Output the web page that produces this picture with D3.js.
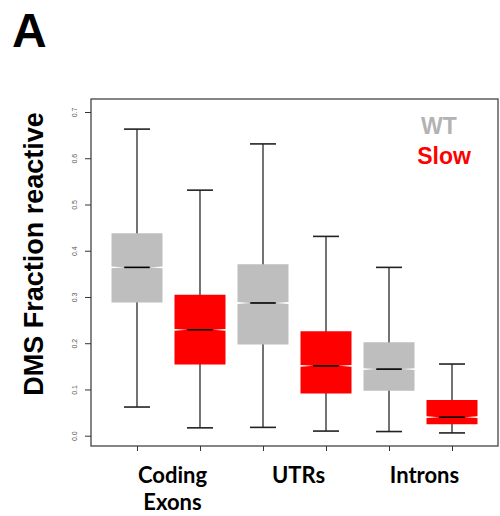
<!DOCTYPE html>
<html>
<head>
<meta charset="utf-8">
<script src="https://cdn.jsdelivr.net/npm/d3@7"></script>
<style>
  html, body { margin: 0; padding: 0; background: #fff; }
  svg { display: block; }
</style>
</head>
<body>
<svg id="chart" width="500" height="516"></svg>
<script>
// Region categories along the x axis (label lines per category)
const categories = ["Coding Exons", "UTRs", "Introns"];
const categoryLines = [["Coding", "Exons"], ["UTRs"], ["Introns"]];
const seriesNames = ["WT", "Slow"];

// Five-number summaries per category: [lower whisker, Q1, median, Q3, upper whisker]
const wtStats = [
  [0.062, 0.288, 0.364, 0.438, 0.663],
  [0.018, 0.197, 0.287, 0.371, 0.631],
  [0.009, 0.097, 0.144, 0.202, 0.364]
];
const slowStats = [
  [0.017, 0.154, 0.229, 0.305, 0.531],
  [0.010, 0.091, 0.151, 0.226, 0.431],
  [0.006, 0.025, 0.040, 0.077, 0.155]
];

const yTicks = [0.0, 0.1, 0.2, 0.3, 0.4, 0.5, 0.6, 0.7];
const yLabel = "DMS Fraction reactive";
const panelLabel = "A";

const colors = { WT: "#bebebe", Slow: "#ff0000" };
const legendColors = { WT: "#b3b3b3", Slow: "#ff0000" };

const svg = d3.select("#chart");

// Plot frame
const frame = { left: 91, right: 498, top: 99, bottom: 446 };

// One box per (category, series)
const boxes = [];
categories.forEach((c, i) => {
  seriesNames.forEach(s => {
    const st = s === "WT" ? wtStats[i] : slowStats[i];
    boxes.push({ key: c + "|" + s, category: c, series: s,
      lo: st[0], q1: st[1], med: st[2], q3: st[3], hi: st[4] });
  });
});

const x = d3.scalePoint()
  .domain(boxes.map(d => d.key))
  .range([frame.left, frame.right])
  .padding(0.73);

const y = d3.scaleLinear().domain([0, 0.7]).range([435.7, 112]);

const boxHalf = 25.5;
const capHalf = 13;
const notchHalfPx = 0.9;

// Frame
svg.append("rect")
  .attr("x", frame.left).attr("y", frame.top)
  .attr("width", frame.right - frame.left)
  .attr("height", frame.bottom - frame.top)
  .attr("fill", "none")
  .attr("stroke", "#444")
  .attr("stroke-width", 1.3);

// Boxes
const g = svg.append("g");
boxes.forEach(d => {
  const cx = x(d.key);
  // whiskers
  g.append("line").attr("x1", cx).attr("x2", cx)
    .attr("y1", y(d.hi)).attr("y2", y(d.lo))
    .attr("stroke", "#444").attr("stroke-width", 1.5);
  [d.hi, d.lo].forEach(v => {
    g.append("line").attr("x1", cx - capHalf).attr("x2", cx + capHalf)
      .attr("y1", y(v)).attr("y2", y(v))
      .attr("stroke", "#222").attr("stroke-width", 1.6);
  });
  // notched box
  const ym = y(d.med), yq1 = y(d.q1), yq3 = y(d.q3);
  const l = cx - boxHalf, r = cx + boxHalf, nl = cx - boxHalf / 2, nr = cx + boxHalf / 2;
  const pts = [
    [l, yq3], [r, yq3], [r, ym - notchHalfPx], [nr, ym], [r, ym + notchHalfPx],
    [r, yq1], [l, yq1], [l, ym + notchHalfPx], [nl, ym], [l, ym - notchHalfPx]
  ];
  g.append("polygon")
    .attr("points", pts.map(p => p.join(",")).join(" "))
    .attr("fill", colors[d.series])
    .attr("stroke", "none");
  // median
  g.append("line").attr("x1", nl).attr("x2", nr)
    .attr("y1", ym).attr("y2", ym)
    .attr("stroke", "#000").attr("stroke-width", 1.6);
});

// Y axis
const yAxis = d3.axisLeft(y).tickValues(yTicks).tickSize(6).tickFormat(d3.format(".1f"));
const ya = svg.append("g").attr("transform", `translate(${frame.left},0)`).call(yAxis);
ya.select(".domain").remove();
ya.selectAll(".tick line").attr("stroke", "#333");
ya.selectAll(".tick text")
  .attr("x", 0).attr("y", 0).attr("dy", null)
  .attr("transform", "translate(-14,0) rotate(-90)")
  .attr("text-anchor", "middle")
  .attr("font-family", "Liberation Sans, Arial, sans-serif")
  .attr("font-size", 7)
  .attr("fill", "#555");

// X axis ticks (one per box, no labels)
const xAxis = d3.axisBottom(x).tickSize(5).tickFormat("");
const xa = svg.append("g").attr("transform", `translate(0,${frame.bottom})`).call(xAxis);
xa.select(".domain").remove();
xa.selectAll(".tick line").attr("stroke", "#333");

// Category labels, centred between paired boxes
categories.forEach((c, i) => {
  const cx = (x(c + "|" + seriesNames[0]) + x(c + "|" + seriesNames[1])) / 2 + 4;
  const t = svg.append("text")
    .attr("x", cx).attr("y", 483)
    .attr("text-anchor", "middle")
    .attr("font-family", "Lato, 'Open Sans', sans-serif")
    .attr("font-weight", "bold")
    .attr("font-size", 22)
    .attr("fill", "#000");
  categoryLines[i].forEach((line, k) => {
    t.append("tspan").attr("x", cx).attr("dy", k === 0 ? 0 : 27).text(line);
  });
});

// Y axis title
svg.append("text")
  .attr("transform", "translate(43,254) rotate(-90)")
  .attr("text-anchor", "middle")
  .attr("font-family", "Liberation Sans, Arial, sans-serif")
  .attr("font-weight", "bold")
  .attr("font-size", 27)
  .attr("fill", "#000")
  .text(yLabel);

// Panel letter
svg.append("text")
  .attr("x", 12).attr("y", 47)
  .attr("font-family", "Liberation Sans, Arial, sans-serif")
  .attr("font-weight", "bold")
  .attr("font-size", 48)
  .attr("fill", "#000")
  .text(panelLabel);

// Legend
const legendPos = { WT: [439, 134], Slow: [444, 164] };
seriesNames.forEach(s => {
  svg.append("text")
    .attr("x", legendPos[s][0]).attr("y", legendPos[s][1])
    .attr("text-anchor", "middle")
    .attr("font-family", "Liberation Sans, Arial, sans-serif")
    .attr("font-weight", "bold")
    .attr("font-size", 23)
    .attr("fill", legendColors[s])
    .text(s);
});
</script>
</body>
</html>
